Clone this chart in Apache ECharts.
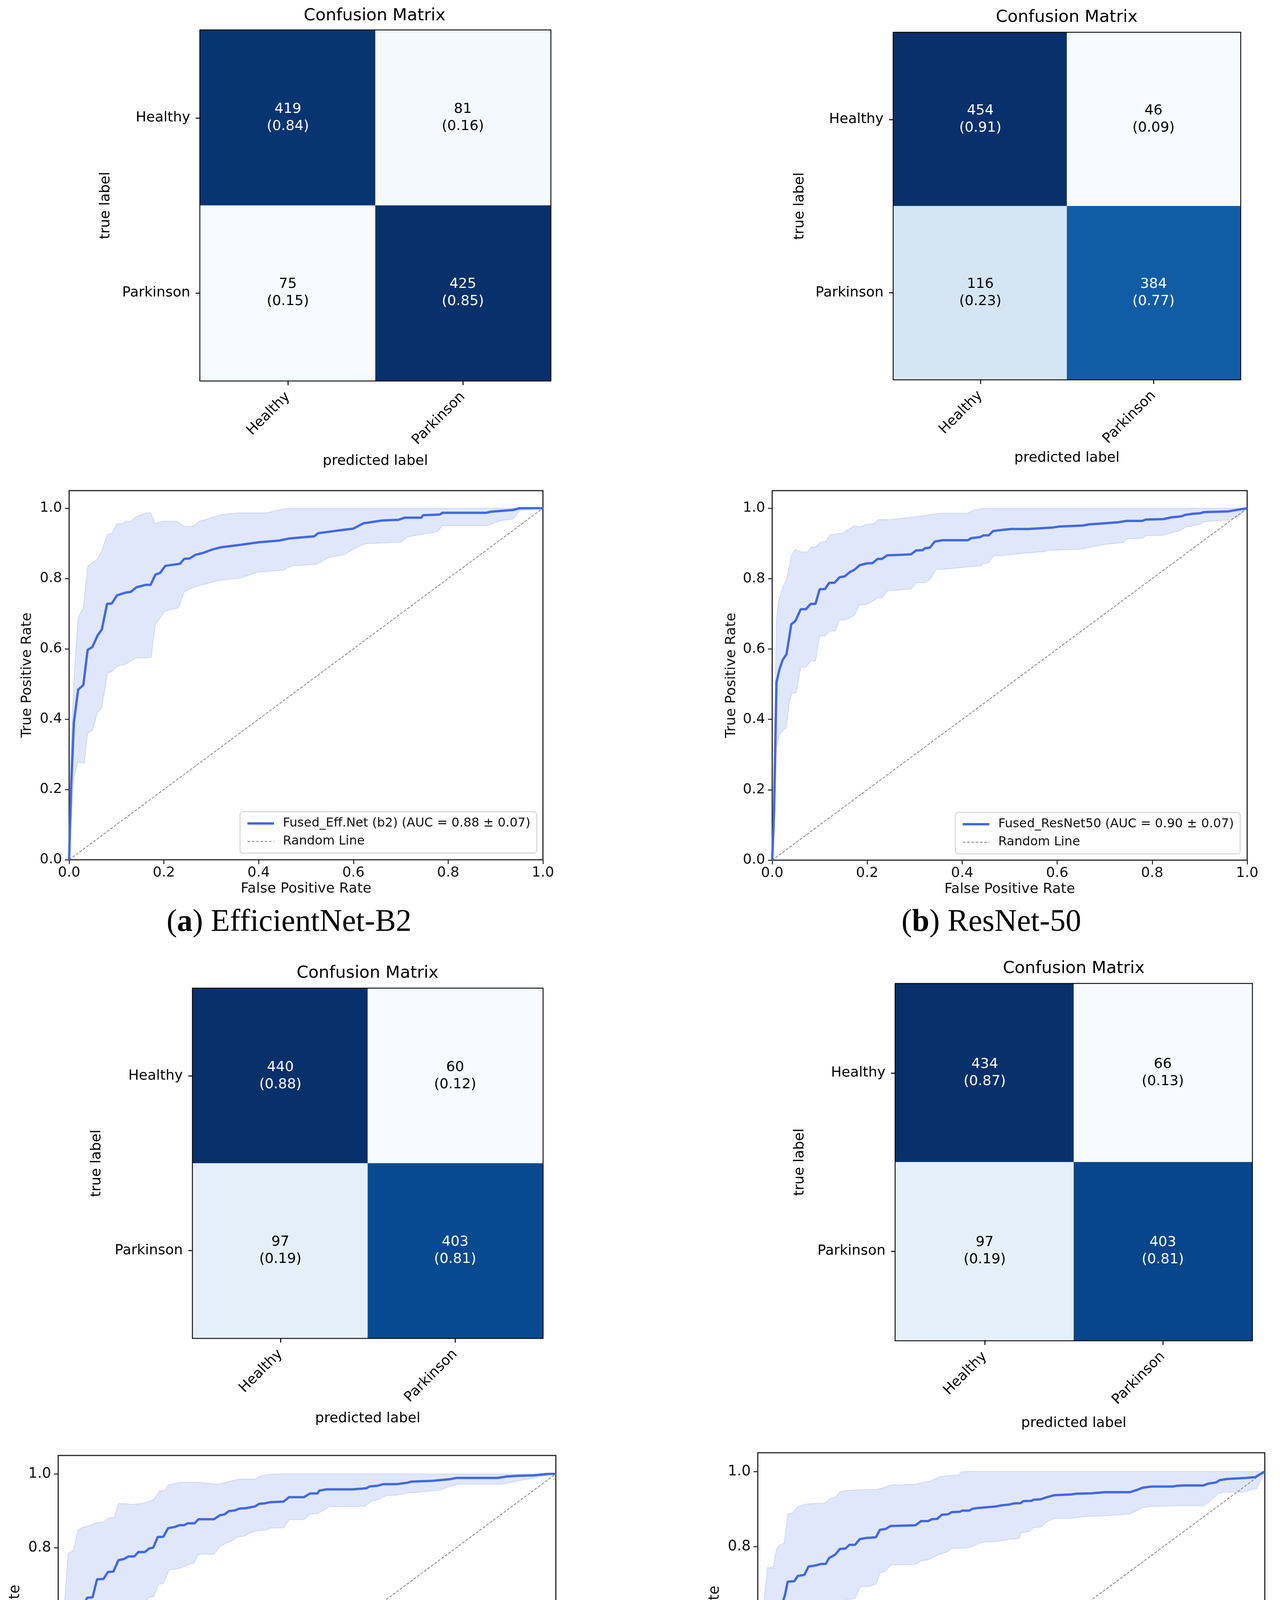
<!DOCTYPE html>
<html>
<head>
<meta charset="utf-8">
<title>Confusion matrices and ROC curves</title>
<script src="https://cdn.jsdelivr.net/npm/echarts@6.0.0/dist/echarts.min.js"></script>
<style>
  html, body { margin: 0; padding: 0; background: #fff; }
  #main { width: 3277px; height: 4964px; }
</style>
</head>
<body>
<div id="main"></div>
<script>
var FONT = 'DejaVu Sans';
var SERIF = 'Liberation Serif';
var W = 3277;

// confusion matrices, rows = true label, columns = predicted label
var cmLabels = ['Healthy', 'Parkinson'];
var cmCountsA = [[419, 81], [75, 425]];
var cmRatiosA = [[0.84, 0.16], [0.15, 0.85]];
var cmCountsB = [[454, 46], [116, 384]];
var cmRatiosB = [[0.91, 0.09], [0.23, 0.77]];
var cmCountsC = [[440, 60], [97, 403]];
var cmRatiosC = [[0.88, 0.12], [0.19, 0.81]];
var cmCountsD = [[434, 66], [97, 403]];
var cmRatiosD = [[0.87, 0.13], [0.19, 0.81]];

// roc curves
var rocTicks = [0, 0.2, 0.4, 0.6, 0.8, 1.0];
var randomLine = [[0, 0], [1, 1]];

var rocNameA = 'Fused_Eff.Net (b2) (AUC = 0.88 \u00b1 0.07)';
var rocMeanA = [[0,0],[0.004,0.2],[0.010,0.39],[0.019,0.484],[0.030,0.497],[0.039,0.597],[0.049,0.605],[0.060,0.638],[0.069,0.655],[0.080,0.728],[0.090,0.729],[0.101,0.752],[0.119,0.760],[0.130,0.762],[0.142,0.775],[0.162,0.782],[0.172,0.782],[0.182,0.811],[0.192,0.816],[0.203,0.836],[0.218,0.839],[0.234,0.842],[0.243,0.856],[0.254,0.857],[0.266,0.867],[0.283,0.873],[0.301,0.882],[0.321,0.889],[0.357,0.895],[0.400,0.903],[0.444,0.908],[0.465,0.914],[0.517,0.920],[0.526,0.929],[0.565,0.936],[0.600,0.942],[0.621,0.957],[0.660,0.965],[0.695,0.967],[0.708,0.973],[0.743,0.973],[0.747,0.980],[0.782,0.982],[0.788,0.987],[0.881,0.987],[0.890,0.990],[0.937,0.995],[0.951,1.0],[1,1]];
var rocUpperA = [[0,0],[0.003,0.3],[0.010,0.515],[0.019,0.689],[0.030,0.717],[0.039,0.835],[0.060,0.856],[0.069,0.878],[0.080,0.925],[0.090,0.929],[0.101,0.956],[0.112,0.956],[0.119,0.963],[0.130,0.963],[0.142,0.976],[0.162,0.987],[0.172,0.987],[0.182,0.956],[0.196,0.963],[0.227,0.963],[0.243,0.949],[0.262,0.949],[0.275,0.963],[0.322,0.982],[0.357,0.987],[0.418,0.987],[0.444,0.996],[0.461,1.0],[1,1]];
var rocLowerA = [[0,0],[0.004,0.1],[0.010,0.235],[0.019,0.278],[0.032,0.274],[0.039,0.36],[0.049,0.368],[0.060,0.42],[0.069,0.432],[0.081,0.531],[0.090,0.535],[0.101,0.55],[0.119,0.556],[0.130,0.565],[0.142,0.574],[0.173,0.575],[0.182,0.668],[0.201,0.706],[0.231,0.717],[0.243,0.762],[0.262,0.775],[0.303,0.79],[0.322,0.796],[0.357,0.80],[0.40,0.818],[0.452,0.824],[0.47,0.836],[0.522,0.84],[0.548,0.86],[0.578,0.867],[0.608,0.889],[0.626,0.899],[0.70,0.903],[0.713,0.918],[0.777,0.933],[0.788,0.95],[0.881,0.95],[0.912,0.965],[0.937,0.969],[0.951,0.993],[1,1]];

var rocNameB = 'Fused_ResNet50 (AUC = 0.90 \u00b1 0.07)';
var rocMeanB = [[0,0],[0.004,0.142],[0.009,0.505],[0.015,0.541],[0.022,0.569],[0.030,0.585],[0.035,0.626],[0.040,0.670],[0.049,0.680],[0.060,0.713],[0.071,0.713],[0.081,0.728],[0.091,0.728],[0.100,0.770],[0.111,0.770],[0.120,0.788],[0.131,0.788],[0.142,0.804],[0.152,0.806],[0.164,0.819],[0.173,0.825],[0.184,0.838],[0.198,0.843],[0.211,0.844],[0.222,0.856],[0.231,0.856],[0.242,0.866],[0.278,0.868],[0.292,0.869],[0.303,0.880],[0.317,0.881],[0.321,0.886],[0.332,0.888],[0.342,0.905],[0.358,0.909],[0.412,0.909],[0.419,0.915],[0.438,0.918],[0.445,0.923],[0.456,0.923],[0.465,0.935],[0.481,0.938],[0.503,0.941],[0.539,0.941],[0.590,0.945],[0.604,0.948],[0.655,0.951],[0.666,0.954],[0.699,0.957],[0.728,0.960],[0.746,0.964],[0.779,0.964],[0.787,0.968],[0.823,0.969],[0.840,0.974],[0.862,0.977],[0.869,0.981],[0.884,0.984],[0.902,0.986],[0.909,0.989],[0.960,0.991],[0.982,0.996],[1,1]];
var rocUpperB = [[0,0],[0.004,0.32],[0.009,0.683],[0.013,0.733],[0.022,0.776],[0.030,0.797],[0.041,0.868],[0.049,0.883],[0.060,0.876],[0.074,0.876],[0.082,0.890],[0.091,0.890],[0.102,0.904],[0.111,0.904],[0.122,0.925],[0.147,0.929],[0.173,0.950],[0.184,0.947],[0.202,0.955],[0.213,0.955],[0.224,0.968],[0.249,0.968],[0.278,0.972],[0.321,0.979],[0.351,0.986],[0.412,0.986],[0.423,0.994],[0.445,1.0],[1,1]];
var rocLowerB = [[0,0],[0.004,0.107],[0.009,0.32],[0.015,0.356],[0.022,0.367],[0.030,0.377],[0.035,0.441],[0.041,0.473],[0.051,0.477],[0.060,0.548],[0.071,0.548],[0.081,0.566],[0.091,0.566],[0.100,0.637],[0.111,0.637],[0.122,0.651],[0.133,0.651],[0.142,0.683],[0.155,0.683],[0.173,0.696],[0.184,0.726],[0.198,0.726],[0.213,0.737],[0.222,0.746],[0.231,0.746],[0.243,0.765],[0.278,0.769],[0.292,0.770],[0.303,0.788],[0.321,0.788],[0.332,0.797],[0.345,0.826],[0.365,0.827],[0.412,0.833],[0.438,0.836],[0.445,0.843],[0.456,0.845],[0.465,0.864],[0.488,0.866],[0.539,0.873],[0.575,0.877],[0.583,0.880],[0.655,0.884],[0.663,0.887],[0.692,0.895],[0.706,0.898],[0.739,0.902],[0.746,0.913],[0.779,0.914],[0.787,0.922],[0.823,0.923],[0.837,0.929],[0.858,0.936],[0.873,0.948],[0.880,0.948],[0.902,0.955],[0.909,0.962],[0.960,0.966],[0.982,0.977],[1,1]];

var rocNameC = 'Fused_DenseNet121 (AUC = 0.89 \u00b1 0.06)';
var rocMeanC = [[0,0],[0.004,0.151],[0.008,0.365],[0.013,0.464],[0.019,0.557],[0.029,0.563],[0.034,0.607],[0.040,0.635],[0.051,0.642],[0.058,0.664],[0.069,0.665],[0.078,0.714],[0.091,0.715],[0.100,0.734],[0.111,0.735],[0.121,0.766],[0.132,0.769],[0.141,0.776],[0.153,0.776],[0.161,0.788],[0.174,0.788],[0.183,0.798],[0.191,0.800],[0.200,0.829],[0.211,0.829],[0.221,0.853],[0.234,0.856],[0.244,0.861],[0.253,0.861],[0.260,0.866],[0.274,0.866],[0.282,0.877],[0.313,0.877],[0.325,0.888],[0.334,0.890],[0.343,0.899],[0.355,0.901],[0.364,0.906],[0.377,0.907],[0.396,0.912],[0.404,0.919],[0.415,0.920],[0.425,0.923],[0.453,0.925],[0.464,0.937],[0.494,0.937],[0.506,0.947],[0.521,0.947],[0.525,0.955],[0.540,0.958],[0.592,0.958],[0.619,0.961],[0.626,0.966],[0.642,0.968],[0.653,0.972],[0.679,0.972],[0.702,0.976],[0.709,0.979],[0.751,0.981],[0.766,0.983],[0.789,0.986],[0.800,0.989],[0.883,0.989],[0.902,0.993],[0.925,0.995],[0.955,0.996],[0.985,1.0],[1,1]];
var rocUpperC = [[0,0],[0.005,0.35],[0.010,0.607],[0.020,0.785],[0.030,0.792],[0.040,0.849],[0.051,0.856],[0.064,0.860],[0.078,0.868],[0.091,0.870],[0.102,0.881],[0.112,0.881],[0.121,0.920],[0.132,0.920],[0.146,0.917],[0.166,0.920],[0.181,0.924],[0.192,0.931],[0.204,0.954],[0.213,0.954],[0.221,0.970],[0.234,0.974],[0.245,0.977],[0.283,0.977],[0.321,0.972],[0.336,0.977],[0.362,0.986],[0.396,0.986],[0.404,0.993],[0.423,0.999],[0.442,1.0],[1,1]];
var rocLowerC = [[0,0],[0.008,0.151],[0.015,0.258],[0.020,0.329],[0.030,0.333],[0.040,0.422],[0.051,0.425],[0.060,0.464],[0.070,0.466],[0.081,0.561],[0.091,0.561],[0.102,0.587],[0.113,0.589],[0.121,0.611],[0.132,0.613],[0.143,0.633],[0.153,0.634],[0.162,0.653],[0.174,0.653],[0.183,0.665],[0.192,0.667],[0.202,0.701],[0.211,0.702],[0.223,0.739],[0.245,0.744],[0.260,0.753],[0.272,0.757],[0.282,0.782],[0.313,0.782],[0.325,0.803],[0.340,0.814],[0.351,0.819],[0.360,0.829],[0.374,0.831],[0.387,0.841],[0.402,0.846],[0.419,0.848],[0.426,0.853],[0.453,0.854],[0.464,0.876],[0.494,0.876],[0.506,0.891],[0.521,0.892],[0.546,0.911],[0.615,0.912],[0.630,0.926],[0.645,0.931],[0.660,0.942],[0.679,0.942],[0.706,0.949],[0.717,0.949],[0.766,0.956],[0.789,0.967],[0.804,0.972],[0.894,0.972],[0.909,0.977],[0.970,0.993],[1,1]];

var rocNameD = 'Fused_ViT (t-12) (AUC = 0.88 \u00b1 0.08)';
var rocMeanD = [[0,0],[0.004,0.224],[0.007,0.473],[0.012,0.523],[0.017,0.559],[0.020,0.591],[0.031,0.593],[0.037,0.623],[0.042,0.643],[0.049,0.651],[0.054,0.673],[0.059,0.707],[0.072,0.708],[0.079,0.722],[0.092,0.725],[0.100,0.747],[0.114,0.750],[0.125,0.754],[0.134,0.754],[0.141,0.770],[0.153,0.779],[0.162,0.794],[0.173,0.795],[0.181,0.805],[0.192,0.805],[0.201,0.820],[0.213,0.823],[0.233,0.825],[0.241,0.845],[0.252,0.847],[0.262,0.855],[0.311,0.857],[0.322,0.868],[0.336,0.868],[0.343,0.873],[0.354,0.874],[0.363,0.885],[0.375,0.886],[0.383,0.892],[0.399,0.893],[0.403,0.896],[0.417,0.896],[0.424,0.901],[0.435,0.903],[0.470,0.907],[0.481,0.910],[0.495,0.912],[0.505,0.915],[0.519,0.916],[0.523,0.921],[0.540,0.922],[0.544,0.925],[0.558,0.926],[0.569,0.931],[0.585,0.937],[0.618,0.939],[0.629,0.941],[0.657,0.942],[0.685,0.945],[0.734,0.945],[0.748,0.951],[0.759,0.957],[0.777,0.960],[0.819,0.960],[0.826,0.962],[0.840,0.963],[0.879,0.963],[0.889,0.968],[0.904,0.971],[0.911,0.977],[0.925,0.980],[0.963,0.983],[0.981,0.985],[1,1]];
var rocUpperD = [[0,0],[0.005,0.367],[0.010,0.594],[0.014,0.680],[0.019,0.744],[0.030,0.744],[0.037,0.794],[0.042,0.804],[0.052,0.809],[0.059,0.886],[0.068,0.890],[0.079,0.906],[0.093,0.913],[0.111,0.915],[0.132,0.916],[0.142,0.927],[0.153,0.932],[0.163,0.947],[0.174,0.950],[0.216,0.952],[0.234,0.952],[0.245,0.956],[0.262,0.964],[0.311,0.966],[0.326,0.971],[0.340,0.975],[0.361,0.987],[0.396,0.991],[0.403,0.999],[0.410,1.0],[1,1]];
var rocLowerD = [[0,0],[0.005,0.153],[0.008,0.310],[0.014,0.402],[0.021,0.438],[0.030,0.439],[0.037,0.480],[0.047,0.495],[0.059,0.527],[0.072,0.529],[0.079,0.543],[0.092,0.545],[0.100,0.582],[0.111,0.582],[0.121,0.592],[0.132,0.592],[0.142,0.616],[0.156,0.630],[0.163,0.637],[0.174,0.658],[0.192,0.662],[0.202,0.692],[0.220,0.694],[0.234,0.701],[0.241,0.730],[0.252,0.735],[0.262,0.751],[0.311,0.753],[0.322,0.762],[0.336,0.765],[0.357,0.779],[0.374,0.786],[0.382,0.795],[0.417,0.797],[0.438,0.809],[0.445,0.812],[0.474,0.814],[0.495,0.819],[0.516,0.822],[0.519,0.837],[0.534,0.840],[0.544,0.851],[0.558,0.852],[0.572,0.868],[0.586,0.875],[0.618,0.875],[0.643,0.880],[0.685,0.882],[0.734,0.887],[0.748,0.896],[0.759,0.904],[0.777,0.907],[0.830,0.909],[0.879,0.909],[0.889,0.918],[0.907,0.940],[0.918,0.945],[0.956,0.945],[0.974,0.952],[0.984,0.954],[1,1]];

// matplotlib "Blues"
var blues = ['#f7fbff', '#deebf7', '#c6dbef', '#9ecae1', '#6baed6', '#4292c6', '#2171b5', '#08519c', '#08306b'];

// where each panel sits on the page (pixels)
var cmPanels = [
  { counts: cmCountsA, ratios: cmRatiosA, left: 513, top: 78, width: 896, height: 896, titleX: 959, titleY: 41, xGap: 189, yGap: 224 },
  { counts: cmCountsB, ratios: cmRatiosB, left: 2288, top: 84, width: 887, height: 887, titleX: 2731, titleY: 45, xGap: 184, yGap: 222 },
  { counts: cmCountsC, ratios: cmRatiosC, left: 494, top: 2531, width: 895, height: 894, titleX: 941, titleY: 2492, xGap: 189, yGap: 228 },
  { counts: cmCountsD, ratios: cmRatiosD, left: 2293, top: 2519, width: 912, height: 912, titleX: 2749, titleY: 2480, xGap: 195, yGap: 227 }
];
var rocPanels = [
  { name: rocNameA, mean: rocMeanA, upper: rocUpperA, lower: rocLowerA, left: 177, top: 1256, width: 1213, height: 945, legRight: W - 1374, legTop: 2078, xGap: 57, yGap: 89, fs: 36, lfs: 32 },
  { name: rocNameB, mean: rocMeanB, upper: rocUpperB, lower: rocLowerB, left: 1977, top: 1256, width: 1216, height: 946, legRight: W - 3175, legTop: 2080, xGap: 57, yGap: 86, fs: 36, lfs: 32 },
  { name: rocNameC, mean: rocMeanC, upper: rocUpperC, lower: rocLowerC, left: 149, top: 3726, width: 1274, height: 991, legRight: W - 1406, legTop: 4588, xGap: 62, yGap: 91, fs: 37, lfs: 34 },
  { name: rocNameD, mean: rocMeanD, upper: rocUpperD, lower: rocLowerD, left: 1940, top: 3719, width: 1298, height: 1010, legRight: W - 3220, legTop: 4597, xGap: 63, yGap: 91, fs: 37, lfs: 34 }
];
var captions = [
  { tag: 'a', text: 'EfficientNet-B2', x: 740, y: 2362 },
  { tag: 'b', text: 'ResNet-50', x: 2538, y: 2362 },
  { tag: 'c', text: 'DenseNet-121', x: 733, y: 4905 },
  { tag: 'd', text: 'ViT (t-12)', x: 2539, y: 4905 }
];

var MEAN_COLOR = '#4169e1';
var RANDOM_COLOR = '#808080';

var grid = [], xAxis = [], yAxis = [], series = [], visualMap = [], legend = [], graphic = [];

cmPanels.forEach(function (p) {
  var k = grid.length;
  grid.push({ left: p.left, top: p.top, width: p.width, height: p.height, show: true,
    borderColor: '#000', borderWidth: 5, backgroundColor: 'transparent', outerBoundsMode: 'none' });
  xAxis.push({
    type: 'category', gridIndex: k, data: cmLabels,
    name: 'predicted label', nameLocation: 'middle', nameGap: p.xGap,
    nameTextStyle: { fontFamily: FONT, fontSize: 36, color: '#000' },
    axisLine: { show: true, lineStyle: { color: '#000', width: 3 } },
    axisTick: { show: true, alignWithLabel: true, length: 12, lineStyle: { color: '#000', width: 2.5 } },
    axisLabel: { rotate: 45, margin: 36, fontFamily: FONT, fontSize: 36, color: '#000' },
    splitLine: { show: false }, splitArea: { show: false }
  });
  yAxis.push({
    type: 'category', gridIndex: k, data: cmLabels, inverse: true,
    name: 'true label', nameLocation: 'middle', nameGap: p.yGap,
    nameTextStyle: { fontFamily: FONT, fontSize: 36, color: '#000' },
    axisLine: { show: true, lineStyle: { color: '#000', width: 3 } },
    axisTick: { show: true, alignWithLabel: true, length: 12, lineStyle: { color: '#000', width: 2.5 } },
    axisLabel: { margin: 26, fontFamily: FONT, fontSize: 36, color: '#000' },
    splitLine: { show: false }, splitArea: { show: false }
  });

  var vals = [];
  p.counts.forEach(function (row) { row.forEach(function (v) { vals.push(v); }); });
  var lo = Math.min.apply(null, vals), hi = Math.max.apply(null, vals);
  var cells = [];
  p.counts.forEach(function (row, i) {
    row.forEach(function (v, j) {
      cells.push({ value: [j, i, v], ratio: p.ratios[i][j],
        label: { color: v > hi / 2 ? '#fff' : '#000' } });
    });
  });
  visualMap.push({ type: 'continuous', show: false, seriesIndex: series.length, dimension: 2,
    min: lo, max: hi, inRange: { color: blues } });
  series.push({
    type: 'heatmap', xAxisIndex: k, yAxisIndex: k, data: cells, silent: true,
    itemStyle: { borderWidth: 0 },
    label: { show: true, fontFamily: FONT, fontSize: 36, lineHeight: 44,
      formatter: function (d) { return d.data.value[2] + '\n(' + d.data.ratio.toFixed(2) + ')'; } },
    emphasis: { disabled: true }
  });
  graphic.push({ type: 'text', x: p.titleX, y: p.titleY, silent: true,
    style: { text: 'Confusion Matrix', fontFamily: FONT, fontSize: 43, fill: '#000',
      align: 'center', verticalAlign: 'middle', textAlign: 'center', textVerticalAlign: 'middle' } });
});

rocPanels.forEach(function (p) {
  var k = grid.length;
  var tickStyle = { color: '#222', width: 2.5 };
  grid.push({ left: p.left, top: p.top, width: p.width, height: p.height, show: true,
    borderColor: '#262626', borderWidth: 3, backgroundColor: 'transparent', outerBoundsMode: 'none' });
  xAxis.push({
    type: 'value', gridIndex: k, min: 0, max: 1, interval: 0.2,
    name: 'False Positive Rate', nameLocation: 'middle', nameGap: p.xGap,
    nameTextStyle: { fontFamily: FONT, fontSize: p.fs, color: '#111' },
    axisLine: { show: false },
    axisTick: { show: true, length: 11, customValues: rocTicks, lineStyle: tickStyle },
    axisLabel: { customValues: rocTicks, margin: 16, fontFamily: FONT, fontSize: p.fs, color: '#111',
      formatter: function (v) { return v.toFixed(1); } },
    splitLine: { show: false }
  });
  yAxis.push({
    type: 'value', gridIndex: k, min: 0, max: 1.05,
    name: 'True Positive Rate', nameLocation: 'middle', nameGap: p.yGap,
    nameTextStyle: { fontFamily: FONT, fontSize: p.fs, color: '#111' },
    axisLine: { show: false },
    axisTick: { show: true, length: 11, customValues: rocTicks, lineStyle: tickStyle },
    axisLabel: { customValues: rocTicks, margin: 18, fontFamily: FONT, fontSize: p.fs, color: '#111',
      formatter: function (v) { return v.toFixed(1); } },
    splitLine: { show: false }
  });

  // +/- band around the mean curve
  series.push({
    type: 'custom', xAxisIndex: k, yAxisIndex: k, silent: true, z: 1, clip: true,
    data: [[0, 0]],
    renderItem: function (params, api) {
      var pts = p.upper.map(function (q) { return api.coord(q); })
        .concat(p.lower.slice().reverse().map(function (q) { return api.coord(q); }));
      return { type: 'polygon', shape: { points: pts },
        style: { fill: 'rgba(65,105,225,0.16)', stroke: 'rgba(65,105,225,0.18)', lineWidth: 2 } };
    }
  });
  series.push({
    type: 'line', name: 'Random Line', xAxisIndex: k, yAxisIndex: k, data: randomLine,
    symbol: 'none', silent: true, z: 2,
    itemStyle: { color: RANDOM_COLOR, opacity: 0 },
    lineStyle: { color: RANDOM_COLOR, width: 2, type: [7, 4] }
  });
  series.push({
    type: 'line', name: p.name, xAxisIndex: k, yAxisIndex: k, data: p.mean,
    symbol: 'none', silent: true, z: 3,
    itemStyle: { color: MEAN_COLOR, opacity: 0 },
    lineStyle: { color: MEAN_COLOR, width: 6 }
  });
  legend.push({
    orient: 'vertical', right: p.legRight, top: p.legTop,
    data: [p.name, 'Random Line'], selectedMode: false,
    itemWidth: 68, itemHeight: 14, itemGap: 14,
    padding: [14, 16, 14, 16],
    borderColor: '#d4d4d4', borderWidth: 2.5, borderRadius: 8,
    backgroundColor: 'rgba(255,255,255,0.8)',
    itemStyle: { opacity: 0, borderWidth: 0 },
    lineStyle: { width: 'inherit' },
    textStyle: { fontFamily: FONT, fontSize: p.lfs, color: '#111', padding: [0, 0, 0, 18] }
  });
});

captions.forEach(function (c) {
  graphic.push({ type: 'text', x: c.x, y: c.y, silent: true,
    style: { text: '({t|' + c.tag + '}) ' + c.text, fontFamily: SERIF, fontSize: 80, fill: '#000',
      align: 'center', verticalAlign: 'middle', textAlign: 'center', textVerticalAlign: 'middle',
      rich: { t: { fontFamily: SERIF, fontSize: 80, fontWeight: 'bold', fill: '#000' } } } });
});

var chart = echarts.init(document.getElementById('main'), null, { renderer: 'canvas' });
chart.setOption({
  backgroundColor: '#fff',
  animation: false,
  grid: grid,
  xAxis: xAxis,
  yAxis: yAxis,
  visualMap: visualMap,
  legend: legend,
  series: series,
  graphic: graphic
});
</script>
</body>
</html>
